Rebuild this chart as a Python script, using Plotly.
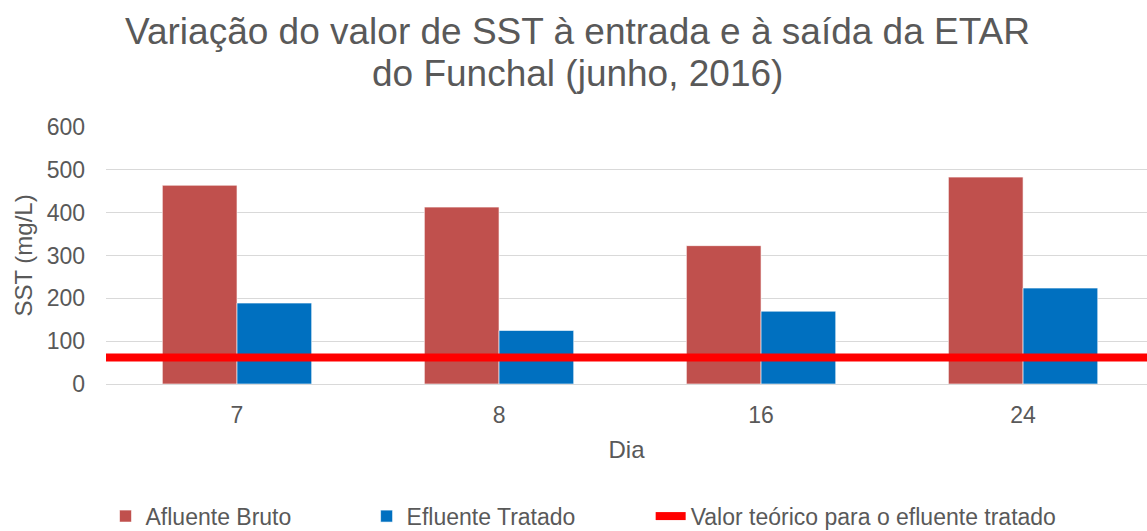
import plotly.graph_objects as go

dias = ["7", "8", "16", "24"]
afluente_bruto = [464, 413, 323, 483]
efluente_tratado = [189, 125, 170, 224]
valor_teorico = 62

series_names = ["Afluente Bruto", "Efluente Tratado", "Valor teórico para o efluente tratado"]
title_line1 = "Variação do valor de SST à entrada e à saída da ETAR"
title_line2 = "do Funchal (junho, 2016)"

font_family = "Liberation Sans, Arial, sans-serif"
grey = "#595959"
pad = "\u00a0" * 11  # spacing between legend entries

fig = go.Figure()
fig.add_trace(go.Bar(
    x=dias, y=afluente_bruto, name=series_names[0] + pad,
    marker=dict(color="#C0504D", line=dict(color="rgba(255,255,255,0.6)", width=1)),
))
fig.add_trace(go.Bar(
    x=dias, y=efluente_tratado, name=series_names[1] + pad,
    marker=dict(color="#0070C0", line=dict(color="rgba(255,255,255,0.6)", width=1)),
))
fig.add_trace(go.Scatter(
    x=[0, 1], y=[valor_teorico, valor_teorico], xaxis="x2",
    mode="lines", name=series_names[2],
    line=dict(color="#FF0000", width=8),
))

fig.update_layout(
    width=1147, height=531,
    paper_bgcolor="white", plot_bgcolor="white",
    margin=dict(l=106, r=0, t=127, b=147, autoexpand=False),
    font=dict(family=font_family, color=grey, size=24),
    barmode="group", bargap=0.43, bargroupgap=0,
    xaxis=dict(
        type="category", range=[-0.5, 3.473],
        showgrid=False, zeroline=False, showline=False,
        ticks="", tickfont=dict(size=23, color=grey),
        ticklabelstandoff=15,
        title=dict(text="Dia", font=dict(size=24, color=grey), standoff=14),
    ),
    xaxis2=dict(overlaying="x", range=[0, 1], visible=False),
    yaxis=dict(
        range=[0, 600], tick0=0, dtick=100,
        showgrid=True, gridcolor="#D9D9D9", gridwidth=1.3,
        zeroline=True, zerolinecolor="#D9D9D9", zerolinewidth=1.3,
        showline=False, ticks="", tickfont=dict(size=23, color=grey),
        ticklabelstandoff=20,
        title=dict(text="SST (mg/L)", font=dict(size=24, color=grey), standoff=7),
    ),
    legend=dict(
        orientation="h", xref="container", x=0.092, xanchor="left",
        yref="container", y=0.028, yanchor="middle",
        font=dict(size=23, color=grey), traceorder="normal",
    ),
    showlegend=True,
    annotations=[
        dict(text=title_line1, xref="paper", yref="paper", x=0.4525, y=1.37,
             xanchor="center", yanchor="middle", showarrow=False,
             font=dict(size=37, color=grey, family=font_family)),
        dict(text=title_line2, xref="paper", yref="paper", x=0.4525, y=1.21,
             xanchor="center", yanchor="middle", showarrow=False,
             font=dict(size=37, color=grey, family=font_family)),
    ],
)

fig.write_html("out.html", config={"displayModeBar": False},
               post_script="document.body.style.margin='0px';")
